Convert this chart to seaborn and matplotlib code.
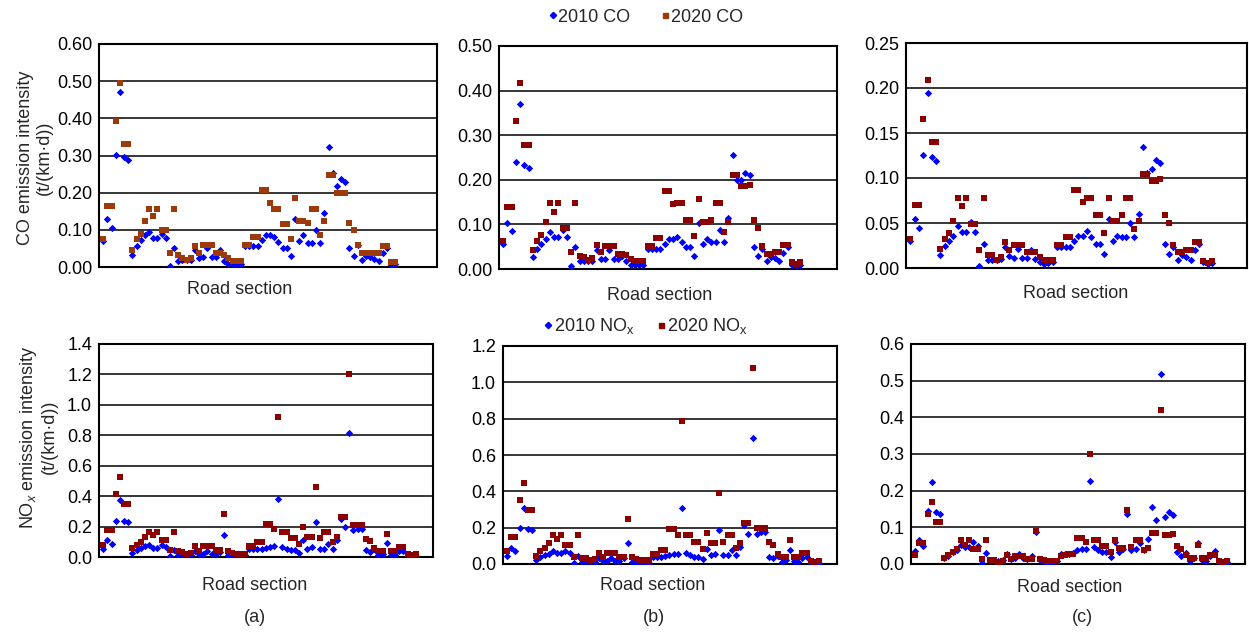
import matplotlib
matplotlib.use("Agg")
import pandas as pd
import matplotlib.pyplot as plt
import seaborn as sns
from matplotlib.lines import Line2D

# ------------------------------------------------------------------
# Data: emission intensity per road section
# ------------------------------------------------------------------
co_a_2010 = [0.070, 0.128, 0.105, 0.302, 0.470, 0.297, 0.288, 0.031, 0.056, 0.072,
             0.085, 0.094, 0.079, 0.079, 0.090, 0.079, 0.003, 0.050, 0.015, 0.018,
             0.018, 0.018, 0.045, 0.025, 0.028, 0.050, 0.027, 0.027, 0.045, 0.015,
             0.009, 0.007, 0.009, 0.009, 0.057, 0.057, 0.057, 0.057, 0.072, 0.085,
             0.085, 0.081, 0.067, 0.051, 0.051, 0.030, 0.128, 0.070, 0.085, 0.065,
             0.065, 0.099, 0.065, 0.144, 0.324, 0.252, 0.218, 0.237, 0.229, 0.051,
             0.030, 0.058, 0.020, 0.029, 0.027, 0.021, 0.016, 0.038, 0.050, 0.005,
             0.009]
co_a_2020 = [0.074, 0.164, 0.164, 0.392, 0.495, 0.330, 0.330, 0.047, 0.075, 0.090,
             0.123, 0.157, 0.138, 0.157, 0.099, 0.099, 0.039, 0.157, 0.031, 0.025,
             0.020, 0.024, 0.057, 0.039, 0.060, 0.060, 0.060, 0.039, 0.039, 0.031,
             0.024, 0.016, 0.016, 0.016, 0.060, 0.060, 0.081, 0.081, 0.207, 0.207,
             0.171, 0.157, 0.157, 0.117, 0.117, 0.076, 0.186, 0.123, 0.123, 0.119,
             0.157, 0.157, 0.085, 0.123, 0.247, 0.247, 0.198, 0.198, 0.200, 0.119,
             0.099, 0.060, 0.039, 0.039, 0.039, 0.039, 0.039, 0.057, 0.057, 0.013,
             0.013]
co_b_2010 = [0.056, 0.103, 0.086, 0.239, 0.371, 0.234, 0.227, 0.028, 0.045, 0.056,
             0.067, 0.084, 0.072, 0.072, 0.088, 0.072, 0.006, 0.049, 0.017, 0.017,
             0.017, 0.017, 0.043, 0.023, 0.023, 0.043, 0.023, 0.023, 0.030, 0.017,
             0.010, 0.010, 0.010, 0.010, 0.045, 0.045, 0.045, 0.045, 0.056, 0.067,
             0.067, 0.072, 0.060, 0.049, 0.049, 0.030, 0.103, 0.056, 0.067, 0.060,
             0.060, 0.088, 0.060, 0.115, 0.256, 0.200, 0.200, 0.216, 0.210, 0.049,
             0.030, 0.045, 0.017, 0.028, 0.025, 0.017, 0.036, 0.049, 0.010, 0.006,
             0.010]
co_b_2020 = [0.063, 0.140, 0.140, 0.331, 0.418, 0.278, 0.278, 0.043, 0.063, 0.076,
             0.105, 0.148, 0.128, 0.148, 0.092, 0.092, 0.037, 0.148, 0.030, 0.026,
             0.021, 0.024, 0.054, 0.037, 0.052, 0.052, 0.052, 0.034, 0.034, 0.032,
             0.023, 0.019, 0.019, 0.019, 0.052, 0.052, 0.070, 0.070, 0.175, 0.175,
             0.146, 0.148, 0.148, 0.110, 0.110, 0.075, 0.157, 0.105, 0.105, 0.110,
             0.148, 0.148, 0.082, 0.105, 0.210, 0.210, 0.185, 0.185, 0.189, 0.110,
             0.092, 0.052, 0.034, 0.034, 0.037, 0.037, 0.054, 0.054, 0.015, 0.012,
             0.015]
co_c_2010 = [0.030, 0.054, 0.045, 0.126, 0.194, 0.123, 0.119, 0.015, 0.024, 0.030,
             0.036, 0.047, 0.040, 0.040, 0.051, 0.040, 0.002, 0.027, 0.009, 0.009,
             0.009, 0.010, 0.023, 0.013, 0.011, 0.021, 0.011, 0.011, 0.020, 0.010,
             0.007, 0.004, 0.006, 0.007, 0.023, 0.023, 0.023, 0.023, 0.030, 0.036,
             0.036, 0.041, 0.034, 0.027, 0.027, 0.016, 0.054, 0.030, 0.036, 0.034,
             0.034, 0.050, 0.034, 0.060, 0.134, 0.106, 0.110, 0.120, 0.117, 0.027,
             0.016, 0.023, 0.009, 0.014, 0.012, 0.009, 0.020, 0.027, 0.007, 0.004,
             0.006]
co_c_2020 = [0.032, 0.070, 0.070, 0.166, 0.209, 0.140, 0.140, 0.021, 0.032, 0.039,
             0.052, 0.078, 0.069, 0.078, 0.049, 0.049, 0.020, 0.078, 0.015, 0.014,
             0.009, 0.012, 0.029, 0.020, 0.026, 0.026, 0.026, 0.018, 0.018, 0.018,
             0.012, 0.009, 0.009, 0.009, 0.026, 0.026, 0.035, 0.035, 0.087, 0.087,
             0.073, 0.078, 0.078, 0.059, 0.059, 0.039, 0.078, 0.052, 0.052, 0.059,
             0.078, 0.078, 0.043, 0.052, 0.104, 0.104, 0.097, 0.097, 0.099, 0.059,
             0.050, 0.026, 0.018, 0.018, 0.020, 0.020, 0.029, 0.029, 0.008, 0.006,
             0.008]

nox_a_2010 = [0.053, 0.110, 0.088, 0.239, 0.375, 0.235, 0.228, 0.026, 0.048, 0.059,
              0.070, 0.079, 0.061, 0.061, 0.079, 0.066, 0.004, 0.044, 0.015, 0.011,
              0.011, 0.011, 0.040, 0.018, 0.022, 0.040, 0.022, 0.022, 0.033, 0.147,
              0.015, 0.007, 0.002, 0.004, 0.011, 0.050, 0.050, 0.050, 0.050, 0.059,
              0.066, 0.070, 0.382, 0.064, 0.055, 0.044, 0.044, 0.029, 0.110, 0.055,
              0.066, 0.228, 0.053, 0.053, 0.083, 0.053, 0.110, 0.252, 0.197, 0.812,
              0.176, 0.187, 0.187, 0.044, 0.033, 0.055, 0.011, 0.022, 0.092, 0.015,
              0.011, 0.040, 0.040, 0.007, 0.000, 0.004]
nox_a_2020 = [0.077, 0.178, 0.178, 0.413, 0.524, 0.347, 0.347, 0.057, 0.077, 0.099,
              0.132, 0.167, 0.147, 0.167, 0.110, 0.110, 0.046, 0.167, 0.040, 0.033,
              0.020, 0.029, 0.070, 0.040, 0.070, 0.070, 0.070, 0.048, 0.048, 0.283,
              0.040, 0.029, 0.020, 0.020, 0.020, 0.070, 0.070, 0.099, 0.099, 0.219,
              0.219, 0.184, 0.922, 0.167, 0.167, 0.125, 0.125, 0.088, 0.195, 0.132,
              0.132, 0.459, 0.123, 0.167, 0.167, 0.099, 0.132, 0.261, 0.261, 1.203,
              0.208, 0.208, 0.208, 0.121, 0.105, 0.061, 0.040, 0.040, 0.154, 0.040,
              0.040, 0.066, 0.066, 0.018, 0.011, 0.018]
nox_b_2010 = [0.046, 0.086, 0.073, 0.198, 0.306, 0.194, 0.187, 0.022, 0.040, 0.050,
              0.055, 0.073, 0.059, 0.059, 0.073, 0.062, 0.004, 0.044, 0.013, 0.009,
              0.009, 0.009, 0.031, 0.015, 0.018, 0.031, 0.018, 0.018, 0.031, 0.117,
              0.013, 0.006, 0.002, 0.004, 0.007, 0.040, 0.040, 0.040, 0.044, 0.050,
              0.053, 0.055, 0.310, 0.059, 0.050, 0.040, 0.040, 0.026, 0.084, 0.050,
              0.055, 0.187, 0.050, 0.050, 0.077, 0.050, 0.092, 0.215, 0.163, 0.692,
              0.163, 0.178, 0.178, 0.040, 0.031, 0.046, 0.013, 0.022, 0.077, 0.018,
              0.011, 0.031, 0.037, 0.007, 0.002, 0.004]
nox_b_2020 = [0.073, 0.150, 0.150, 0.352, 0.448, 0.297, 0.297, 0.044, 0.073, 0.088,
              0.117, 0.160, 0.139, 0.160, 0.103, 0.103, 0.040, 0.160, 0.035, 0.031,
              0.022, 0.029, 0.062, 0.040, 0.059, 0.059, 0.059, 0.040, 0.040, 0.246,
              0.037, 0.029, 0.022, 0.022, 0.022, 0.055, 0.055, 0.077, 0.077, 0.191,
              0.191, 0.160, 0.787, 0.160, 0.160, 0.121, 0.121, 0.081, 0.172, 0.117,
              0.117, 0.393, 0.123, 0.160, 0.160, 0.086, 0.117, 0.224, 0.224, 1.077,
              0.198, 0.198, 0.198, 0.121, 0.103, 0.055, 0.040, 0.040, 0.132, 0.040,
              0.040, 0.062, 0.062, 0.018, 0.013, 0.018]
nox_c_2010 = [0.035, 0.065, 0.050, 0.145, 0.225, 0.143, 0.137, 0.016, 0.023, 0.032,
              0.039, 0.052, 0.046, 0.046, 0.059, 0.048, 0.003, 0.031, 0.012, 0.010,
              0.009, 0.012, 0.027, 0.014, 0.016, 0.027, 0.016, 0.014, 0.021, 0.087,
              0.010, 0.005, 0.003, 0.003, 0.007, 0.028, 0.028, 0.028, 0.030, 0.037,
              0.041, 0.042, 0.227, 0.046, 0.039, 0.032, 0.032, 0.019, 0.060, 0.033,
              0.042, 0.136, 0.039, 0.041, 0.057, 0.039, 0.068, 0.155, 0.119, 0.519,
              0.127, 0.141, 0.135, 0.032, 0.021, 0.030, 0.007, 0.016, 0.057, 0.012,
              0.009, 0.021, 0.035, 0.005, 0.003, 0.005]
nox_c_2020 = [0.025, 0.057, 0.057, 0.136, 0.169, 0.114, 0.114, 0.016, 0.025, 0.033,
              0.042, 0.065, 0.053, 0.065, 0.040, 0.040, 0.015, 0.065, 0.012, 0.010,
              0.006, 0.009, 0.025, 0.015, 0.023, 0.023, 0.023, 0.015, 0.015, 0.091,
              0.015, 0.010, 0.007, 0.007, 0.007, 0.023, 0.025, 0.028, 0.028, 0.072,
              0.072, 0.060, 0.299, 0.065, 0.065, 0.048, 0.048, 0.033, 0.065, 0.043,
              0.043, 0.148, 0.046, 0.065, 0.065, 0.037, 0.043, 0.085, 0.085, 0.419,
              0.078, 0.078, 0.082, 0.048, 0.041, 0.024, 0.016, 0.016, 0.051, 0.016,
              0.016, 0.025, 0.025, 0.007, 0.005, 0.007]

# ------------------------------------------------------------------
# Style
# ------------------------------------------------------------------
sns.set_style("white")
plt.rcParams['font.family'] = ['Liberation Sans', 'DejaVu Sans']
plt.rcParams['mathtext.fontset'] = 'custom'
plt.rcParams['mathtext.rm'] = 'Liberation Sans'
plt.rcParams['mathtext.it'] = 'Liberation Sans:italic'

BLUE = "#0000ff"
BROWN = "#9c3a0c"
DARKRED = "#8b0000"
FS = 13

W, H = 1249, 633
fig = plt.figure(figsize=(W / 100, H / 100), dpi=100)


def box(l, r, t, b):
    return [l / W, 1 - b / H, (r - l) / W, (b - t) / H]


# one entry per panel: series, colour for 2020, y range, ticks, layout
panels = [
    (co_a_2010, co_a_2020, BROWN, 0.60, 0.10, "{:.2f}", box(99, 437, 44, 267), 81.0, (240, 289)),
    (co_b_2010, co_b_2020, DARKRED, 0.50, 0.10, "{:.2f}", box(499, 837, 46, 269), 79.6, (660, 295)),
    (co_c_2010, co_c_2020, DARKRED, 0.25, 0.05, "{:.2f}", box(906, 1247, 43, 268), 79.1, (1076, 294)),
    (nox_a_2010, nox_a_2020, DARKRED, 1.4, 0.2, "{:.1f}", box(99, 433, 344, 557), 80.1, (255, 585)),
    (nox_b_2010, nox_b_2020, DARKRED, 1.2, 0.2, "{:.1f}", box(503, 837, 346, 564), 80.3, (653, 586)),
    (nox_c_2010, nox_c_2020, DARKRED, 0.6, 0.1, "{:.1f}", box(911, 1245, 344, 564), 80.3, (1070, 587)),
]

for v2010, v2020, c2020, ymax, step, fmt, rect, xmax, lab in panels:
    ax = fig.add_axes(rect)
    df = pd.DataFrame({
        "section": list(range(1, len(v2010) + 1)),
        "y2010": v2010,
        "y2020": v2020,
    })
    sns.scatterplot(data=df, x="section", y="y2010", marker="D", s=14, color=BLUE,
                    linewidth=0, ax=ax, zorder=3)
    sns.scatterplot(data=df, x="section", y="y2020", marker="s", s=21, color=c2020,
                    linewidth=0, ax=ax, zorder=3)

    n = int(round(ymax / step))
    ticks = [round(k * step, 3) for k in range(n + 1)]
    ax.set_ylim(0, ymax)
    ax.set_xlim(0, xmax)
    ax.set_yticks(ticks)
    ax.set_yticklabels([fmt.format(t) for t in ticks])
    ax.set_xticks([])
    ax.set_xlabel("")
    ax.set_ylabel("")
    ax.yaxis.grid(True, color="black", linewidth=1.1)
    ax.set_axisbelow(True)
    ax.tick_params(axis="y", length=0, pad=5, labelsize=FS, colors="black")
    for sp in ax.spines.values():
        sp.set_color("black")
        sp.set_linewidth(1.5)
    fig.text(lab[0] / W, 1 - lab[1] / H, "Road section", ha="center", va="center", fontsize=FS)

# y axis titles
fig.text(35 / W, 1 - 158 / H, "CO emission intensity\n(t/(km·d))", rotation=90,
         ha="center", va="center", multialignment="center", fontsize=FS)
fig.text(38 / W, 1 - 437 / H, "NO$_x$ emission intensity\n(t/(km·d))", rotation=90,
         ha="center", va="center", multialignment="center", fontsize=FS)

# panel letters
for x, y, t in [(255, 618, "(a)"), (654, 618, "(b)"), (1082, 617, "(c)")]:
    fig.text(x / W, 1 - y / H, t, ha="center", va="center", fontsize=FS)

# legends
h_co = [Line2D([], [], ls="", marker="D", ms=3.2, color=BLUE),
        Line2D([], [], ls="", marker="s", ms=3.6, color=BROWN)]
fig.legend(h_co, ["2010 CO", "2020 CO"], loc="center", bbox_to_anchor=(646 / W, 1 - 17 / H),
           ncol=2, frameon=False, fontsize=FS, handlelength=0.4, handletextpad=0.1,
           columnspacing=1.75)
h_nox = [Line2D([], [], ls="", marker="D", ms=3.2, color=BLUE),
         Line2D([], [], ls="", marker="s", ms=3.6, color=DARKRED)]
fig.legend(h_nox, ["2010 NO$_\\mathrm{x}$", "2020 NO$_\\mathrm{x}$"], loc="center",
           bbox_to_anchor=(646 / W, 1 - 326 / H), ncol=2, frameon=False, fontsize=FS,
           handlelength=0.4, handletextpad=0.1, columnspacing=1.3)

fig.savefig("out.png", dpi=100)
